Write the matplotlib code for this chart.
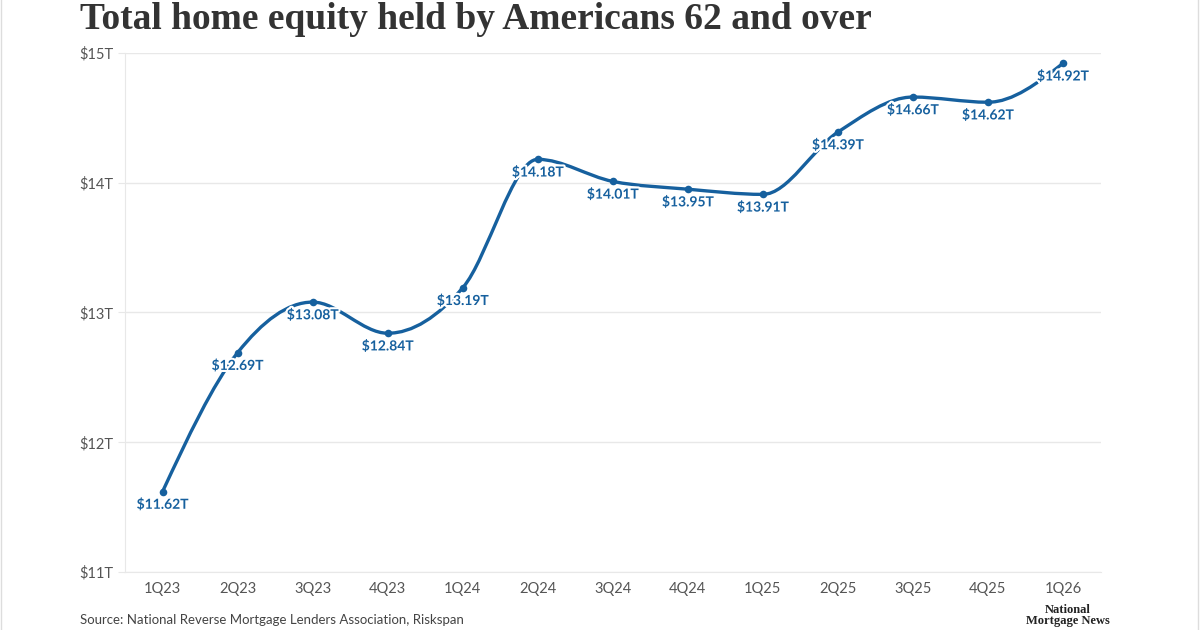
import numpy as np
import matplotlib
matplotlib.use("Agg")
import matplotlib.pyplot as plt
import matplotlib.patheffects as pe
from matplotlib.path import Path
from matplotlib.patches import PathPatch

# datos
quarters = ["1Q23", "2Q23", "3Q23", "4Q23", "1Q24", "2Q24", "3Q24",
            "4Q24", "1Q25", "2Q25", "3Q25", "4Q25", "1Q26"]
equity_t = [11.62, 12.69, 13.08, 12.84, 13.19, 14.18, 14.01,
            13.95, 13.91, 14.39, 14.66, 14.62, 14.92]
y_ticks = [11, 12, 13, 14, 15]

BLUE = "#16609e"
GRID = "#e8e8e8"
TICK = "#555555"


def monotone_path(xs, ys):
    """curva monotona tipo d3.curveMonotoneX"""
    xs = np.asarray(xs, float)
    ys = np.asarray(ys, float)
    n = len(xs)
    h = np.diff(xs)
    s = np.diff(ys) / h
    t = np.zeros(n)
    for i in range(1, n - 1):
        p = (s[i - 1] * h[i] + s[i] * h[i - 1]) / (h[i - 1] + h[i])
        t[i] = (np.sign(s[i - 1]) + np.sign(s[i])) * min(abs(s[i - 1]), abs(s[i]), 0.5 * abs(p))
    t[0] = (3 * s[0] - t[1]) / 2
    t[-1] = (3 * s[-1] - t[-2]) / 2
    verts = [(xs[0], ys[0])]
    codes = [Path.MOVETO]
    for i in range(n - 1):
        dx = (xs[i + 1] - xs[i]) / 3
        verts += [(xs[i] + dx, ys[i] + dx * t[i]),
                  (xs[i + 1] - dx, ys[i + 1] - dx * t[i + 1]),
                  (xs[i + 1], ys[i + 1])]
        codes += [Path.CURVE4] * 3
    return Path(verts, codes)


plt.rcParams["font.family"] = ["Lato", "DejaVu Sans"]
SERIF = ["Liberation Serif", "DejaVu Serif"]

fig = plt.figure(figsize=(12, 6.3), dpi=100)
ax = fig.add_axes([0.1042, 0.092, 0.8129, 0.824])

x = np.arange(len(quarters))
ax.add_patch(PathPatch(monotone_path(x, equity_t), facecolor="none",
                       edgecolor=BLUE, lw=2.4, capstyle="round", zorder=3))
ax.scatter(x, equity_t, s=30, color=BLUE, zorder=4, linewidths=0)

for xi, v in zip(x, equity_t):
    ax.annotate(f"${v:.2f}T", (xi, v), xytext=(0, -9.5), textcoords="offset points",
                ha="center", va="center", fontsize=10, fontweight="bold", color=BLUE,
                zorder=5,
                path_effects=[pe.withStroke(linewidth=3, foreground="white")])

ax.set_xlim(-0.5, len(quarters) - 0.5)
ax.set_ylim(11, 15)
ax.set_xticks(x)
ax.set_xticklabels(quarters)
ax.set_yticks(y_ticks)
ax.set_yticklabels([f"${v}T" for v in y_ticks])
ax.grid(axis="y", color=GRID, lw=1, zorder=0)
ax.tick_params(axis="x", length=0, pad=7, labelsize=10.5, colors=TICK)
ax.tick_params(axis="y", length=5, width=0.8, color=GRID, pad=3, labelsize=10.5, labelcolor=TICK)
for side in ["top", "right"]:
    ax.spines[side].set_visible(False)
ax.spines["left"].set_color(GRID)
ax.spines["bottom"].set_color(GRID)

fig.text(0.0667, 1 - 29 / 630, "Total home equity held by Americans 62 and over",
         fontsize=27, fontweight="bold", family=SERIF,
         color="#333333", ha="left", va="baseline")
fig.text(0.0667, 1 - 624 / 630, "Source: National Reverse Mortgage Lenders Association, Riskspan",
         fontsize=9.5, color="#444444", ha="left", va="baseline")
fig.text(0.89, 1 - 613 / 630, "National", fontsize=9, fontweight="bold",
         family=SERIF, color="#222222", ha="center", va="baseline")
fig.text(0.89, 1 - 624 / 630, "Mortgage News", fontsize=9, fontweight="bold",
         family=SERIF, color="#222222", ha="center", va="baseline")

fig.add_artist(plt.Line2D([0.001, 0.001], [0, 1], color="#dddddd", lw=1))
fig.add_artist(plt.Line2D([0.998, 0.998], [0, 1], color="#dddddd", lw=1))

fig.savefig("out.png", dpi=100, facecolor="white")
